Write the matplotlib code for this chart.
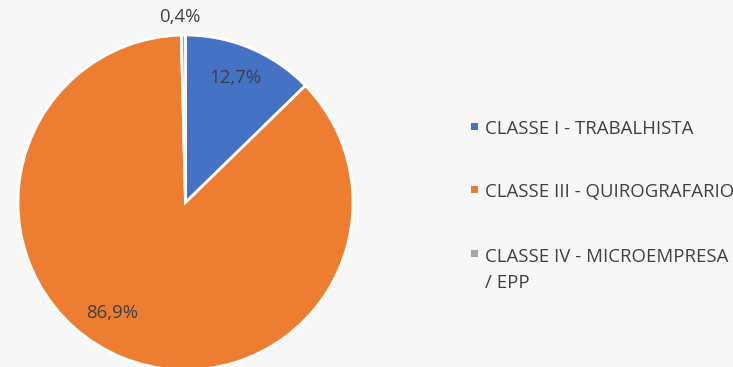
import matplotlib.pyplot as plt
from matplotlib.patches import Rectangle

categorias = ["CLASSE I - TRABALHISTA", "CLASSE III - QUIROGRAFARIO",
              "CLASSE IV - MICROEMPRESA\n/ EPP"]
percentuais = [12.7, 86.9, 0.4]
cores = ["#4472C4", "#ED7D31", "#A5A5A5"]

fundo = "#F7F7F7"
texto = "#404040"
plt.rcParams["font.family"] = ["Open Sans", "DejaVu Sans"]

fig = plt.figure(figsize=(7.33, 3.67), dpi=100, facecolor=fundo)
W, H = 733, 367

# pie area: center (185.5, 202.5) px from top, radius 167.5 px
cx, cy, r = 185.5, 202.5, 167.5
ax = fig.add_axes([(cx - r) / W, (H - cy - r) / H, 2 * r / W, 2 * r / H])
ax.set_facecolor(fundo)

wedges, _, autotexts = ax.pie(
    percentuais, colors=cores, startangle=90, counterclock=False,
    labels=None, autopct=lambda p: f"{p:.1f}%".replace(".", ","),
    pctdistance=0.8, wedgeprops=dict(edgecolor="white", linewidth=2),
    textprops=dict(color=texto, fontsize=13.4))

# label positions in data coords (radius = 1)
posicoes = [(0.296, 0.743), (-0.439, -0.660), (-0.033, 1.107)]
for t, (x, y) in zip(autotexts, posicoes):
    t.set_position((x, y))
    t.set_ha("center")
    t.set_va("center")

ax.set_xlim(-1, 1)
ax.set_ylim(-1, 1)
ax.set_aspect("auto")
ax.axis("off")

# legend
linhas_y = [128, 191, 255]
for cor, nome, y in zip(cores, categorias, linhas_y):
    fig.add_artist(Rectangle((471 / W, (H - y - 1.5) / H), 7 / W, 7 / H,
                             transform=fig.transFigure, facecolor=cor,
                             edgecolor="none"))
    fig.text(485 / W, (H - y - 6.5) / H, nome.split("\n")[0], ha="left",
             va="baseline", fontsize=13.4, color=texto)
    if "\n" in nome:
        fig.text(485 / W, (H - y - 32.5) / H, nome.split("\n")[1], ha="left",
                 va="baseline", fontsize=13.4, color=texto)

fig.savefig("out.png", dpi=100, facecolor=fundo)
